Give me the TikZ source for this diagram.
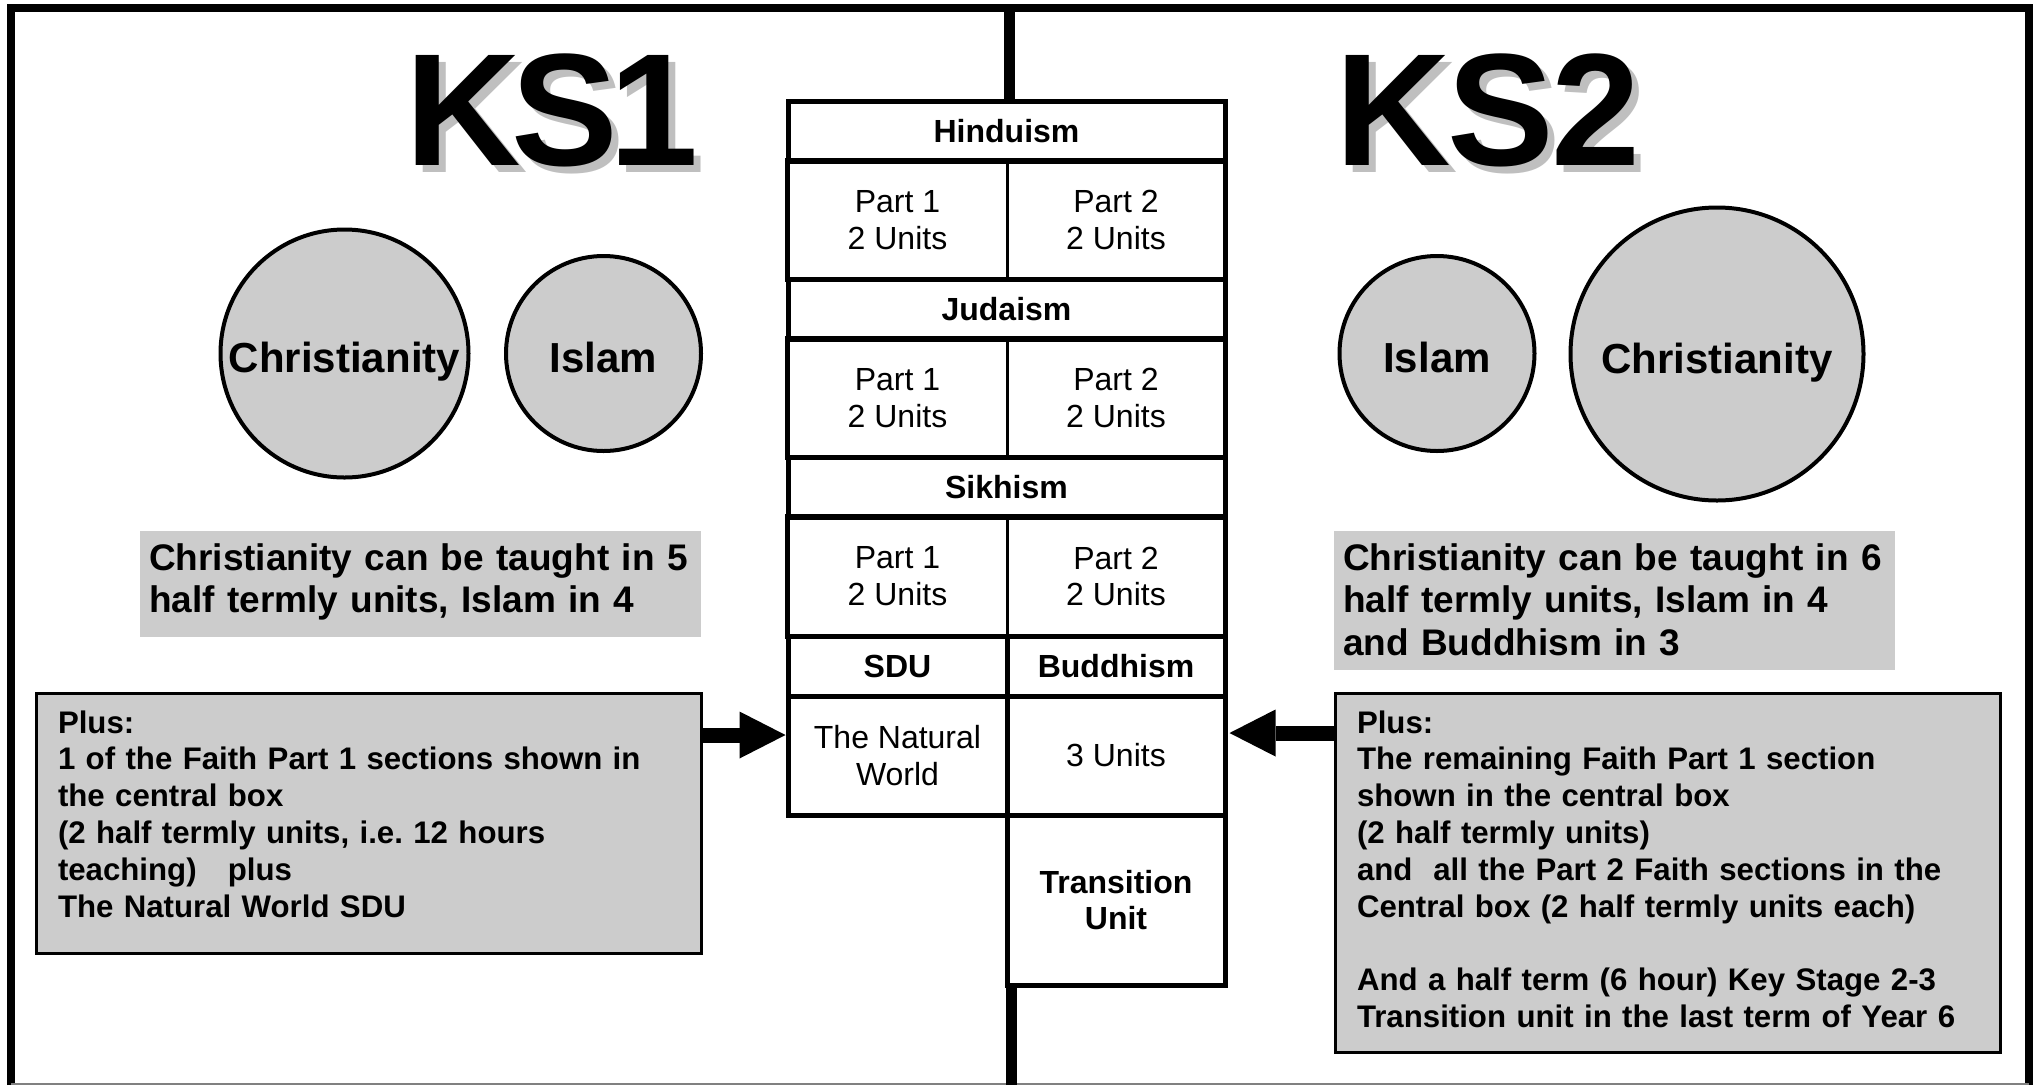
\documentclass[tikz,border=0pt]{standalone}
\usepackage{fontspec}
\setmainfont{Liberation Sans}
\usetikzlibrary{arrows.meta}

\definecolor{boxgrey}{gray}{0.8}
\definecolor{shadegrey}{gray}{0.75}

\newcommand{\tabfont}{\fontsize{32}{36.8}\selectfont}

\tikzset{
  frameline/.style={line width=8pt},
  axisline/.style={line width=11pt},
  title/.style={font=\fontsize{160}{170}\selectfont\bfseries, inner sep=0pt, anchor=base west},
  faith/.style={circle, draw, line width=4pt, fill=boxgrey, inner sep=0pt, text height=38pt, text depth=0pt, font=\fontsize{42}{48}\selectfont\bfseries},
  note/.style={fill=boxgrey, inner xsep=9pt, inner ysep=0pt, text width=543pt, align=left, text height=27pt, font=\fontsize{37}{42.5}\selectfont\bfseries},
  plusbox/.style={draw, line width=3pt, fill=boxgrey, inner xsep=22pt, inner ysep=0pt, minimum width=665pt, text width=621pt, align=left, text height=23pt, font=\fontsize{31.2}{36.8}\selectfont\bfseries},
  header/.style={draw, line width=5pt, inner sep=0pt, minimum width=437pt, minimum height=60pt, text depth=0pt, font=\tabfont\bfseries},
  cell/.style={draw, line width=5pt, inner sep=0pt, minimum width=219pt, align=center, font=\tabfont},
  partcell/.style={inner sep=0pt, minimum width=219pt, minimum height=118pt, align=center, font=\tabfont},
  tabline/.style={line width=5pt},
  divider/.style={line width=3pt},
  bigarrow/.style={line width=15pt, -{Triangle[length=46pt, width=47pt, line width=0pt]}}
}

\begin{document}
\frenchspacing
\begin{tikzpicture}[x=1pt, y=-1pt]

\useasboundingbox (0,0) rectangle (2035,1085);

% outer frame
\draw [frameline] (11,1085) -- (11,8) -- (2029,8) -- (2029,1085);

\draw [gray, line width=2pt] (11,1084) -- (2029,1084);

% titles
\node [title, text=shadegrey] (ks1shade) at (412,172) {K\kern-9pt S\kern-9pt 1};
\node [title] (ks1) at (405,165) {K\kern-9pt S\kern-9pt 1};

\node [title, text=shadegrey] (ks2shade) at (1342,172) {K\kern-3pt S\kern-3pt 2};
\node [title] (ks2) at (1335,165) {K\kern-3pt S\kern-3pt 2};

% faiths
\node [faith, minimum size=248pt] (chr1) at (344.5,353.5) {Christianity};
\node [faith, minimum size=195pt] (isl1) at (603.5,353.5) {Islam};

\node [faith, minimum size=195pt] (isl2) at (1437,353.5) {Islam};
\node [faith, minimum size=293pt] (chr2) at (1717,354) {Christianity};

% notes
\node [note, minimum height=106pt, text depth=55pt] (note1) at (420.5,584) {Christianity can be taught in 5\\half termly units, Islam in 4};

\node [note, minimum height=139pt, text depth=88pt] (note2) at (1614.5,600.5) {Christianity can be taught in 6\\half termly units, Islam in 4\\and Buddhism in 3};

\node [plusbox, minimum height=260pt, text depth=203pt] (plus1) at (368.5,823) {Plus:\\
1 of the Faith Part 1 sections shown in\\
the central box\\
(2 half termly units, i.e. 12 hours\\
teaching)~~~plus\\
The Natural World SDU};

\node [plusbox, minimum height=359pt, text depth=302pt] (plus2) at (1667.5,872.5) {Plus:\\
The remaining Faith Part 1 section\\
shown in the central box\\
(2 half termly units)\\
and~~all the Part 2 Faith sections in the\\
Central box (2 half termly units each)\\[36.8pt]
And a half term (6 hour) Key Stage 2-3\\
Transition unit in the last term of Year 6};

% central box
\node [header] (hin) at (1006.5,131) {Hinduism};
\node [partcell] (hinA) at (897.5,220) {Part 1\\2 Units};
\node [partcell, minimum width=218pt] (hinB) at (1116,220) {Part 2\\2 Units};
\draw [tabline] (hinA.north west) rectangle (hinB.south east);
\draw [divider] (hinA.north east) -- (hinA.south east);

\node [header] (jud) at (1006.5,309) {Judaism};
\node [partcell] (judA) at (897.5,398) {Part 1\\2 Units};
\node [partcell, minimum width=218pt] (judB) at (1116,398) {Part 2\\2 Units};
\draw [tabline] (judA.north west) rectangle (judB.south east);
\draw [divider] (judA.north east) -- (judA.south east);

\node [header] (sik) at (1006.5,487) {Sikhism};
\node [partcell, minimum height=119pt] (sikA) at (897.5,576.5) {Part 1\\2 Units};
\node [partcell, minimum width=218pt, minimum height=119pt] (sikB) at (1116,576.5) {Part 2\\2 Units};
\draw [tabline] (sikA.north west) rectangle (sikB.south east);
\draw [divider] (sikA.north east) -- (sikA.south east);

\node [cell, minimum height=60pt, text depth=0pt, font=\tabfont\bfseries] (sdu) at (897.5,666) {SDU};
\node [cell, minimum width=218pt, minimum height=60pt, text depth=0pt, font=\tabfont\bfseries] (bud) at (1116,666) {Buddhism};

\node [cell, minimum height=119pt] (nat) at (897.5,755.5) {The Natural\\World};
\node [cell, minimum width=218pt, minimum height=119pt] (bunits) at (1116,755.5) {3 Units};

\node [cell, minimum width=218pt, minimum height=170pt, font=\tabfont\bfseries] (trans) at (1116,900) {Transition\\Unit};

% dividing line
\coordinate (axtop) at (1009,8);
\coordinate (axbot) at (1011,1085);
\draw [axisline] (axtop) -- (axtop |- hin.north);
\draw [axisline] (axbot |- trans.south) -- (axbot);

% arrows
\coordinate (arrowy1) at (0,735);
\coordinate (arrowy2) at (0,733);
\draw [bigarrow] (plus1.east |- arrowy1) -- (nat.west |- arrowy1);
\draw [bigarrow] (plus2.west |- arrowy2) -- ([xshift=2pt]bunits.east |- arrowy2);

\end{tikzpicture}
\end{document}
